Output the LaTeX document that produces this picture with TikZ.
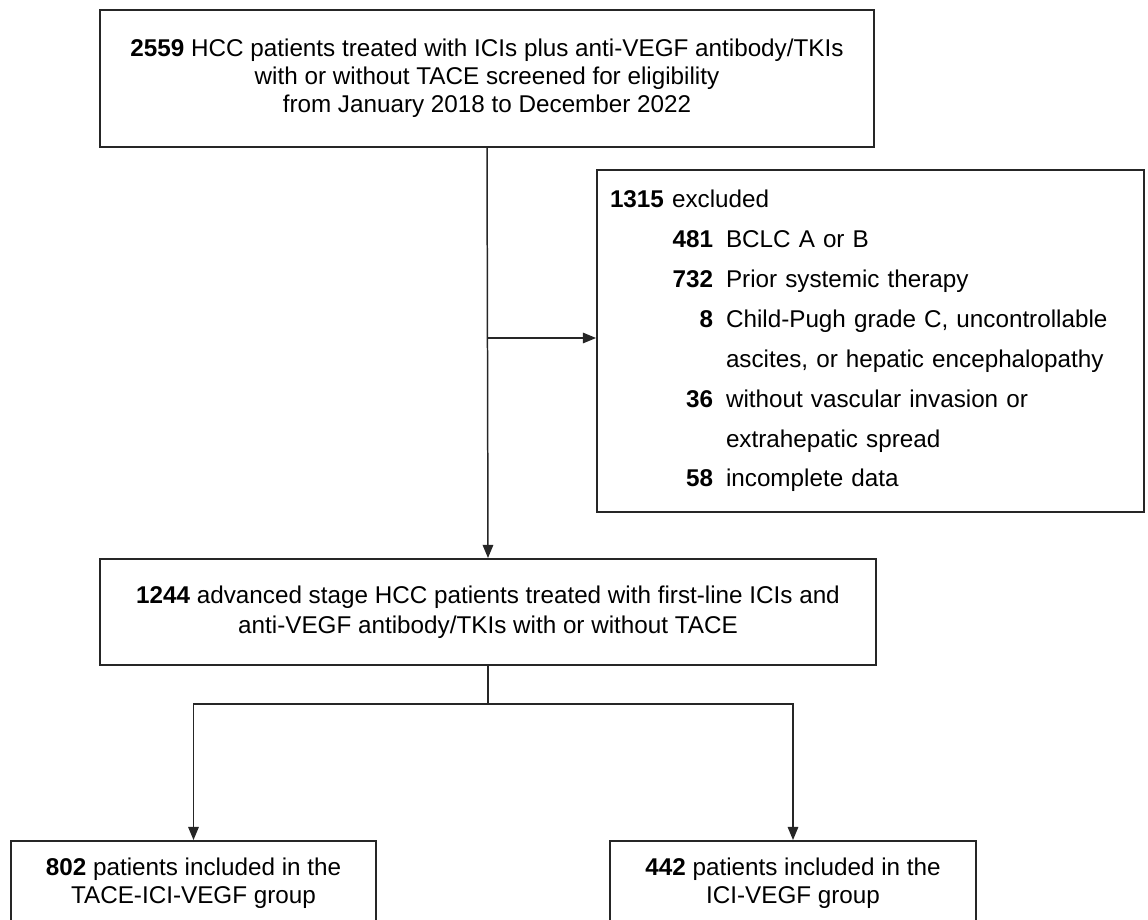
\documentclass[tikz,border=0pt]{standalone}
\usepackage{fontspec}
\setmainfont{Liberation Sans}
\usetikzlibrary{arrows.meta,calc}
\definecolor{LineDark}{HTML}{262626}
\newcommand{\exitem}[2]{\makebox[2.06cm][r]{\textbf{#1}}\hspace{0.26cm}#2}

\begin{document}
\begin{tikzpicture}[every node/.style={font=\fontsize{13.8}{15.9}\selectfont},
          box/.style={draw=LineDark, line width=1.1pt, align=center, inner sep=0pt},
          ar/.style={-{Triangle[length=7.5pt,width=6pt]}, line width=0.85pt, LineDark}]
        \path[use as bounding box, clip] (0,0) rectangle (22.96,-18.38);
        \node[box, minimum width=15.48cm, minimum height=2.74cm]
        (screen) at (9.74,-1.57)
        {\textbf{2559} HCC patients treated with ICIs plus anti-VEGF antibody/TKIs\\
         with or without TACE screened for eligibility\\
         from January 2018 to December 2022};
        \node[box, text width=10.42cm, inner xsep=0.26cm, minimum height=6.84cm,
          align=left, font=\fontsize{13.8}{22.7}\selectfont]
        (excl) at (17.41,-6.82)
        {\textbf{1315} excluded\\
         \exitem{481}{BCLC A or B}\\
         \exitem{732}{Prior systemic therapy}\\
         \exitem{8}{Child-Pugh grade C, uncontrollable}\\
         \hspace*{2.32cm}ascites, or hepatic encephalopathy\\
         \exitem{36}{without vascular invasion or}\\
         \hspace*{2.32cm}extrahepatic spread\\
         \exitem{58}{incomplete data}};
        \node[box, minimum width=15.52cm, minimum height=2.12cm,
          font=\fontsize{13.8}{17}\selectfont]
        (adv) at (9.76,-12.24)
        {\textbf{1244} advanced stage HCC patients treated with first-line ICIs and\\
         anti-VEGF antibody/TKIs with or without TACE};
        \node[box, minimum width=7.3cm, minimum height=1.7cm]
        (tace) at (3.87,-17.67)
        {\textbf{802} patients included in the\\TACE-ICI-VEGF group};
        \node[box, minimum width=7.32cm, minimum height=1.7cm]
        (ici) at (15.86,-17.67)
        {\textbf{442} patients included in the\\ICI-VEGF group};
        \draw[ar] (screen.south) -- (adv.north);
        \coordinate (split) at (9.74,-6.76);
        \draw[ar] (split) -- (split -| excl.west);
        \draw[line width=0.85pt, LineDark] (adv.south) -- ++(0,-0.76) coordinate (fork);
        \draw[ar] (fork) -| (tace.north);
        \draw[ar] (fork) -| (ici.north);
      \end{tikzpicture}
\end{document}
